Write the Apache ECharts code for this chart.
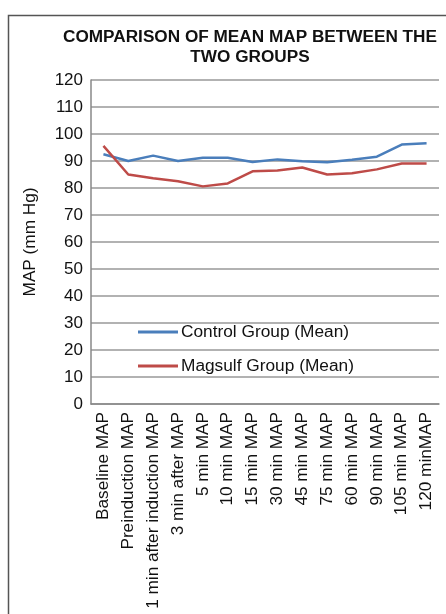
<!DOCTYPE html>
<html><head><meta charset="utf-8">
<script src="https://cdn.jsdelivr.net/npm/echarts@6/dist/echarts.min.js"></script>
<style>html,body{margin:0;padding:0;background:#fff}#c{width:446px;height:614px}</style>
</head><body><div id="c"></div>
<script>
const categories = ['Baseline MAP','Preinduction MAP','1 min after induction MAP','3 min after MAP','5 min MAP','10 min MAP','15 min MAP','30 min MAP','45 min MAP','75 min MAP','60 min MAP','90 min MAP','105 min MAP','120 minMAP'];
const controlMean = [92.5, 90.0, 92.0, 90.0, 91.2, 91.2, 89.6, 90.6, 89.9, 89.5, 90.5, 91.6, 96.1, 96.6];
const magsulfMean = [95.6, 85.0, 83.6, 82.5, 80.6, 81.7, 86.2, 86.5, 87.6, 85.0, 85.5, 86.9, 89.1, 89.1];
const titleText = 'COMPARISON OF MEAN MAP BETWEEN THE\nTWO GROUPS';
const yName = 'MAP (mm Hg)';

const chart = echarts.init(document.getElementById('c'));
const font = 'Liberation Sans, Arial, sans-serif';
chart.setOption({
  animation: false,
  graphic: [{type:'rect', shape:{x:8.5, y:15.5, width:460, height:620}, style:{fill:'none', stroke:'#555', lineWidth:1.5}, silent:true}],
  title: {text: titleText, left: 245, textAlign: 'center', top: 22,
    textStyle:{fontFamily:font, fontWeight:'bold', fontSize:17.2, color:'#111', lineHeight:20}},
  legend: {orient:'vertical', left:133, top:317, icon:'rect', itemWidth:40, itemHeight:3, itemGap:14,
    textStyle:{fontFamily:font, fontSize:17.3, color:'#111', lineHeight:20, padding:[0,0,0,-2]},
    data:['Control Group (Mean)','Magsulf Group (Mean)']},
  grid: {left:91, right:7, top:80, bottom:210, containLabel:false},
  xAxis: {type:'category', data:categories, boundaryGap:true,
    axisLine:{lineStyle:{color:'#888', width:1.5}}, axisTick:{show:false},
    axisLabel:{rotate:90, interval:0, fontFamily:font, fontSize:17.2, color:'#111', margin:8}},
  yAxis: {type:'value', min:0, max:120, interval:10, name:yName, nameLocation:'middle', nameGap:52, nameRotate:90,
    nameTextStyle:{fontFamily:font, fontSize:17.2, color:'#111'},
    axisLine:{show:true, lineStyle:{color:'#888', width:1.5}}, axisTick:{show:false},
    axisLabel:{fontFamily:font, fontSize:17, color:'#111', margin:8},
    splitLine:{lineStyle:{color:'#999', width:1.5}}},
  series: [
    {name:'Control Group (Mean)', type:'line', data:controlMean, symbol:'none', lineStyle:{color:'#4A7EBB', width:2.5}, itemStyle:{color:'#4A7EBB'}},
    {name:'Magsulf Group (Mean)', type:'line', data:magsulfMean, symbol:'none', lineStyle:{color:'#BE4B48', width:2.5}, itemStyle:{color:'#BE4B48'}}
  ]
});
</script></body></html>
